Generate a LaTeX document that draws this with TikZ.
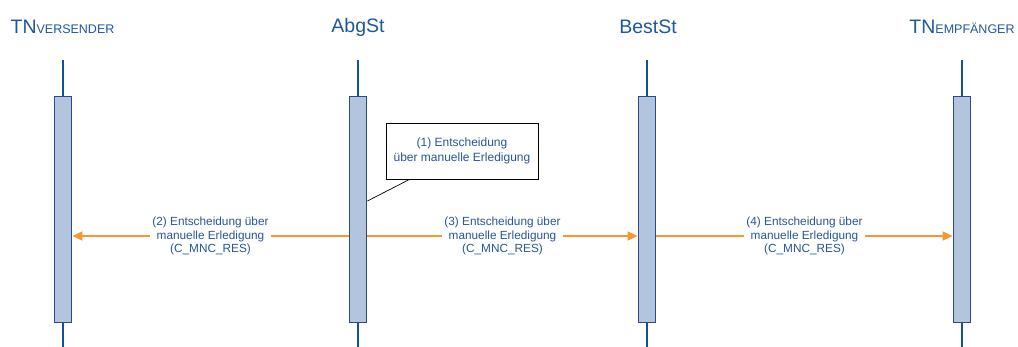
\documentclass[tikz,border=0pt]{standalone}
\usepackage{fontspec}
\setmainfont{Liberation Sans}
\usetikzlibrary{arrows.meta,positioning}
\definecolor{titleblue}{RGB}{30,88,155}
\definecolor{textblue}{RGB}{40,85,150}
\definecolor{barfill}{RGB}{178,196,222}
\definecolor{barline}{RGB}{45,75,130}
\definecolor{lineblue}{RGB}{20,80,150}
\definecolor{msgorange}{RGB}{247,150,50}
\tikzset{
  title/.style={text=titleblue,font=\fontsize{19.5}{21}\selectfont,inner sep=0pt},
  bar/.style={draw=barline,fill=barfill,line width=1.8pt,minimum width=17pt,minimum height=226pt,inner sep=0pt},
  lifeline/.style={draw=lineblue,line width=1.8pt},
  msg/.style={draw=msgorange,line width=1.8pt,-{Triangle[length=10pt,width=9pt]}},
  msglabel/.style={fill=white,text=textblue,align=center,font=\fontsize{11.8}{13.5}\selectfont,inner sep=2pt},
  note/.style={draw=black,line width=0.7pt,text=textblue,align=center,minimum width=152pt,minimum height=56pt,font=\fontsize{12}{15}\selectfont}
}
\newcommand{\smallcap}[1]{{\fontsize{12.5}{14}\selectfont #1}}
\begin{document}
\begin{tikzpicture}[x=1pt,y=-1pt]
  \useasboundingbox (0,0) rectangle (1018,347);
  % titles
  \node[title] (tnv) at (62.5,27) {TN\smallcap{VERSENDER}};
  \node[title] (abg) at (358,27) {AbgSt};
  \node[title] (best) at (648,27) {BestSt};
  \node[title] (tne) at (962,27) {TN\smallcap{EMPFÄNGER}};
  % activation bars
  \node[bar] (tnvbar) at (63,209.5) {};
  \node[bar] (abgbar) at (358,209.5) {};
  \node[bar] (bestbar) at (647,209.5) {};
  \node[bar] (tnebar) at (962,209.5) {};
  % lifelines
  \foreach \n/\x in {tnv/63,abg/358,best/647,tne/962} {
    \coordinate (\n top) at (\x,60);
    \coordinate (\n bot) at (\x,347);
    \draw[lifeline] (\n top) -- (\n bar.north);
    \draw[lifeline] (\n bar.south) -- (\n bot);
  }
  % note
  \node[note] (decide) at (462,151) {(1) Entscheidung\\über manuelle Erledigung};
  \coordinate (hook) at (0,201);
  \draw[line width=0.7pt] ([xshift=24pt]decide.south west) -- (abgbar.east |- hook);
  % messages
  \coordinate (m) at (0,236);
  \draw[msg] (abgbar.west |- m) -- node[msglabel] {(2) Entscheidung über\\manuelle Erledigung\\(C\_MNC\_RES)} (tnvbar.east |- m);
  \draw[msg] (abgbar.east |- m) -- node[msglabel] {(3) Entscheidung über\\manuelle Erledigung\\(C\_MNC\_RES)} (bestbar.west |- m);
  \draw[msg] (bestbar.east |- m) -- node[msglabel] {(4) Entscheidung über\\manuelle Erledigung\\(C\_MNC\_RES)} (tnebar.west |- m);
\end{tikzpicture}
\end{document}
